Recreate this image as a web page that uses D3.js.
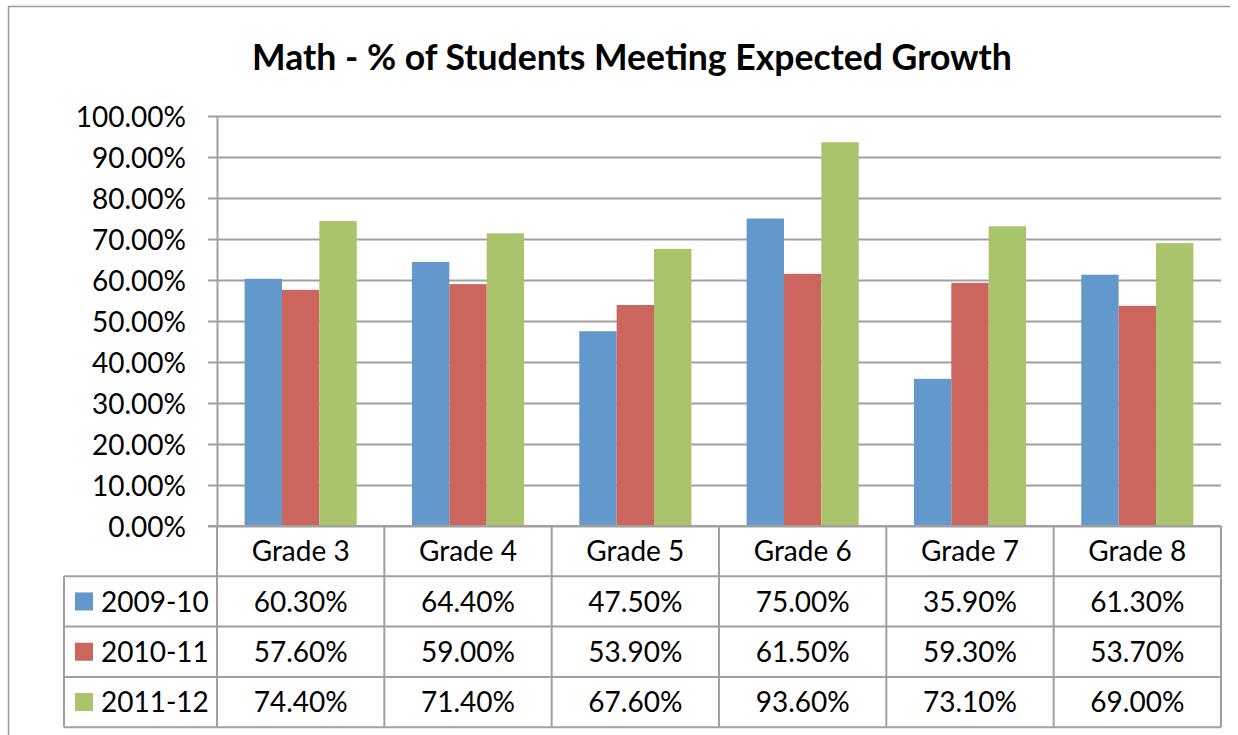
<!DOCTYPE html>
<html>
<head>
<meta charset="utf-8">
<script src="https://cdn.jsdelivr.net/npm/d3@7"></script>
<style>
  html, body { margin: 0; padding: 0; background: #fff; }
  svg { display: block; font-family: Lato, "Open Sans", sans-serif; }
</style>
</head>
<body>
<script>
const grades = ['Grade 3', 'Grade 4', 'Grade 5', 'Grade 6', 'Grade 7', 'Grade 8'];
const years = ['2009-10', '2010-11', '2011-12'];
const values0910 = [0.603, 0.644, 0.475, 0.750, 0.359, 0.613];
const values1011 = [0.576, 0.590, 0.539, 0.615, 0.593, 0.537];
const values1112 = [0.744, 0.714, 0.676, 0.936, 0.731, 0.690];
const yTicks = [0, 0.1, 0.2, 0.3, 0.4, 0.5, 0.6, 0.7, 0.8, 0.9, 1.0];
const colors = ['#6398cc', '#cd655f', '#a9c46a'];
const title = 'Math - % of Students Meeting Expected Growth';

const series = years.map((name, i) => ({
  name,
  color: colors[i],
  values: [values0910, values1011, values1112][i]
}));

const width = 1238, height = 735;
const plot = { left: 217, right: 1221, top: 116, bottom: 526 };
const rowH = 50.3;
const tableLeft = 64;
const gridColor = '#a0a0a0';
const fontSize = 28;
const fmt = d3.format('.2%');

const svg = d3.select('body').append('svg')
  .attr('width', width)
  .attr('height', height);

// outer chart frame (left and top edges visible)
svg.append('path')
  .attr('d', `M8.5,${height} V6.5 H1230`)
  .attr('fill', 'none')
  .attr('stroke', '#999')
  .attr('stroke-width', 1.5);

// title, fitted to the width it has in the reference
const titleText = svg.append('text')
  .attr('x', 632)
  .attr('y', 70)
  .attr('text-anchor', 'middle')
  .attr('font-weight', 'bold')
  .attr('font-size', 32)
  .attr('fill', '#000')
  .text(title);
const tw = titleText.node().getComputedTextLength();
titleText.attr('font-size', 32 * 760 / tw);

const y = d3.scaleLinear().domain([0, 1]).range([plot.bottom, plot.top]);
const x0 = d3.scaleBand().domain(grades).range([plot.left, plot.right]).padding(0);
const pad = x0.bandwidth() * 0.165;
const x1 = d3.scaleBand().domain(years).range([pad, x0.bandwidth() - pad]).padding(0);

// gridlines
svg.append('g')
  .selectAll('line')
  .data(yTicks)
  .join('line')
    .attr('x1', plot.left)
    .attr('x2', plot.right)
    .attr('y1', d => Math.round(y(d)) + 0.5)
    .attr('y2', d => Math.round(y(d)) + 0.5)
    .attr('stroke', gridColor)
    .attr('stroke-width', 2);

// y axis
const yAxis = svg.append('g')
  .attr('transform', `translate(${plot.left},0)`)
  .call(d3.axisLeft(y).tickValues(yTicks).tickFormat(fmt).tickSize(9).tickPadding(22));
yAxis.select('.domain').remove();
yAxis.selectAll('.tick line').attr('stroke', gridColor).attr('stroke-width', 2);
yAxis.selectAll('.tick text')
  .attr('font-size', fontSize)
  .attr('font-family', 'Lato, "Open Sans", sans-serif')
  .attr('fill', '#000')
  .attr('dy', '0.36em');

// bars
svg.append('g')
  .selectAll('g')
  .data(grades)
  .join('g')
    .attr('transform', g => `translate(${x0(g)},0)`)
  .selectAll('rect')
  .data((g, gi) => series.map(s => ({ name: s.name, color: s.color, value: s.values[gi] })))
  .join('rect')
    .attr('x', d => x1(d.name))
    .attr('width', x1.bandwidth())
    .attr('y', d => y(d.value))
    .attr('height', d => y(0) - y(d.value))
    .attr('fill', d => d.color);

// y axis line
svg.append('line')
  .attr('x1', plot.left + 0.5).attr('x2', plot.left + 0.5)
  .attr('y1', plot.top).attr('y2', plot.bottom)
  .attr('stroke', gridColor).attr('stroke-width', 2);

// data table
const table = svg.append('g');
const tableBottom = plot.bottom + rowH * 4;

// horizontal lines of the table
table.selectAll('.hline')
  .data(d3.range(0, 5))
  .join('line')
    .attr('class', 'hline')
    .attr('x1', d => d === 0 ? plot.left - 9 : tableLeft)
    .attr('x2', plot.right)
    .attr('y1', d => plot.bottom + d * rowH)
    .attr('y2', d => plot.bottom + d * rowH)
    .attr('stroke', gridColor)
    .attr('stroke-width', 2);

// vertical lines of the table
const colEdges = grades.map(g => x0(g)).concat([plot.right]);
table.selectAll('.vline')
  .data(colEdges)
  .join('line')
    .attr('class', 'vline')
    .attr('x1', d => d).attr('x2', d => d)
    .attr('y1', plot.bottom)
    .attr('y2', tableBottom)
    .attr('stroke', gridColor)
    .attr('stroke-width', 2);
table.append('line')
  .attr('x1', tableLeft).attr('x2', tableLeft)
  .attr('y1', plot.bottom + rowH).attr('y2', tableBottom)
  .attr('stroke', gridColor).attr('stroke-width', 2);

// category header
table.selectAll('.grade')
  .data(grades)
  .join('text')
    .attr('class', 'grade')
    .attr('x', g => x0(g) + x0.bandwidth() / 2)
    .attr('y', plot.bottom + rowH / 2)
    .attr('dy', '0.36em')
    .attr('text-anchor', 'middle')
    .attr('font-size', fontSize)
    .text(g => g);

// series rows
const rows = table.selectAll('.row')
  .data(series)
  .join('g')
    .attr('class', 'row')
    .attr('transform', (s, i) => `translate(0,${plot.bottom + rowH * (i + 1)})`);

rows.append('rect')
  .attr('x', 75)
  .attr('y', rowH / 2 - 9)
  .attr('width', 18)
  .attr('height', 18)
  .attr('fill', s => s.color);

rows.append('text')
  .attr('x', 101)
  .attr('y', rowH / 2)
  .attr('dy', '0.36em')
  .attr('font-size', fontSize)
  .text(s => s.name);

rows.selectAll('.val')
  .data(s => s.values.map((v, i) => ({ grade: grades[i], v })))
  .join('text')
    .attr('class', 'val')
    .attr('x', d => x0(d.grade) + x0.bandwidth() / 2)
    .attr('y', rowH / 2)
    .attr('dy', '0.36em')
    .attr('text-anchor', 'middle')
    .attr('font-size', fontSize)
    .text(d => fmt(d.v));
</script>
</body>
</html>
